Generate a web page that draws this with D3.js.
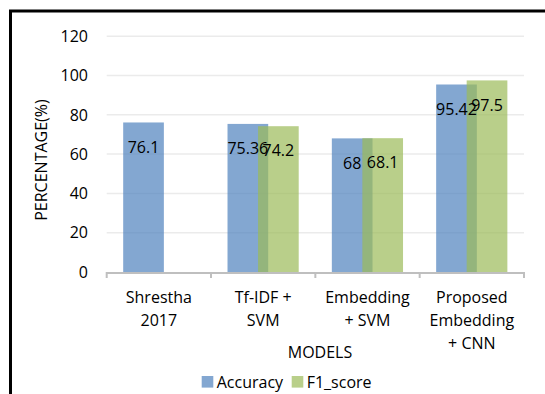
<!DOCTYPE html>
<html lang="en">
<head>
    <meta charset="UTF-8">
    <title>Accuracy and F1 score by model</title>
    <script src="https://d3js.org/d3.v7.min.js"></script>
    <style>
        body {
            margin: 0;
            background: #fff;
        }
        svg text {
            font-family: "Open Sans", sans-serif;
            font-size: 16px;
            fill: #000;
        }
        .grid line {
            stroke: #ebebeb;
            stroke-width: 1.5;
        }
    </style>
</head>
<body>
    <svg id="chart" width="545" height="394"></svg>
    <script>
        // Data
        const models = ["Shrestha 2017", "Tf-IDF + SVM", "Embedding + SVM", "Proposed Embedding + CNN"];
        const modelLines = [["Shrestha", "2017"], ["Tf-IDF +", "SVM"], ["Embedding", "+ SVM"], ["Proposed", "Embedding", "+ CNN"]];
        const seriesNames = ["Accuracy", "F1_score"];
        const accuracy = [76.1, 75.36, 68, 95.42];
        const f1score = [null, 74.2, 68.1, 97.5];
        const accuracyLabels = ["76.1", "75.36", "68", "95.42"];
        const f1Labels = [null, "74.2", "68.1", "97.5"];
        const yTicks = [0, 20, 40, 60, 80, 100, 120];

        const colors = ["#4f81bd", "#9bbb59"];
        const barOpacity = 0.7;

        const svg = d3.select("#chart");

        // frame (only top and left edges are visible in the crop)
        svg.append("path")
            .attr("d", "M10.5,394 V11 H545")
            .attr("fill", "none")
            .attr("stroke", "#000")
            .attr("stroke-width", 3);

        const x = d3.scaleBand()
            .domain(models)
            .range([106.7, 524])
            .padding(0);

        const y = d3.scaleLinear()
            .domain([0, 120])
            .range([272, 36.2]);

        const bw = x.bandwidth();
        const barW = bw * 0.39;
        const offset = bw * 0.158;
        const shift = barW * 0.75;

        // gridlines
        svg.append("g")
            .attr("class", "grid")
            .selectAll("line")
            .data(yTicks.slice(1))
            .enter()
            .append("line")
            .attr("x1", x.range()[0])
            .attr("x2", x.range()[1])
            .attr("y1", d => y(d))
            .attr("y2", d => y(d));

        // y tick labels
        svg.append("g")
            .selectAll("text")
            .data(yTicks)
            .enter()
            .append("text")
            .attr("x", 88)
            .attr("y", d => y(d))
            .attr("dy", "0.36em")
            .attr("text-anchor", "end")
            .text(d => d);

        // y title
        svg.append("text")
            .attr("transform", `translate(47,160) rotate(-90)`)
            .attr("text-anchor", "middle")
            .text("PERCENTAGE(%)");

        // bars
        const series = [accuracy, f1score];
        series.forEach((vals, i) => {
            svg.append("g")
                .selectAll("rect")
                .data(models.map((m, j) => ({ m, v: vals[j] })).filter(d => d.v != null))
                .enter()
                .append("rect")
                .attr("x", d => x(d.m) + offset + i * shift)
                .attr("y", d => y(d.v))
                .attr("width", barW)
                .attr("height", d => y(0) - y(d.v))
                .attr("fill", colors[i])
                .attr("fill-opacity", barOpacity);
        });

        // x axis line + ticks at band edges
        const axisG = svg.append("g");
        axisG.append("line")
            .attr("x1", x.range()[0])
            .attr("x2", x.range()[1])
            .attr("y1", y(0) + 1)
            .attr("y2", y(0) + 1)
            .attr("stroke", "#bfbfbf")
            .attr("stroke-width", 2);
        axisG.selectAll(".tick")
            .data(models.map(m => x(m)).concat([x.range()[1]]))
            .enter()
            .append("line")
            .attr("x1", d => d)
            .attr("x2", d => d)
            .attr("y1", y(0))
            .attr("y2", y(0) + 6)
            .attr("stroke", "#bfbfbf")
            .attr("stroke-width", 2);

        // category labels
        svg.append("g")
            .selectAll("text")
            .data(models)
            .enter()
            .append("text")
            .attr("text-anchor", "middle")
            .attr("y", 297)
            .each(function(m, j) {
                const t = d3.select(this);
                modelLines[j].forEach((line, k) => {
                    t.append("tspan")
                        .attr("x", x(m) + bw / 2)
                        .attr("dy", k === 0 ? "0.36em" : 23)
                        .text(line);
                });
            });

        // x title
        svg.append("text")
            .attr("x", 320)
            .attr("y", 352)
            .attr("dy", "0.36em")
            .attr("text-anchor", "middle")
            .text("MODELS");

        // data labels (inside end, like the source chart)
        const labels = [accuracyLabels, f1Labels];
        labels.forEach((labs, i) => {
            svg.append("g")
                .selectAll("text")
                .data(models.map((m, j) => ({ m, v: series[i][j], t: labs[j] })).filter(d => d.v != null))
                .enter()
                .append("text")
                .attr("x", d => x(d.m) + offset + i * shift + barW / 2)
                .attr("y", d => y(d.v) + 24.5)
                .attr("dy", "0.36em")
                .attr("text-anchor", "middle")
                .text(d => d.t);
        });

        // legend
        const legendX = [201.7, 291.7];
        const legend = svg.append("g");
        seriesNames.forEach((name, i) => {
            legend.append("rect")
                .attr("x", legendX[i])
                .attr("y", 376)
                .attr("width", 11.6)
                .attr("height", 11.6)
                .attr("fill", colors[i])
                .attr("fill-opacity", barOpacity);
            legend.append("text")
                .attr("x", legendX[i] + 15)
                .attr("y", 382)
                .attr("dy", "0.36em")
                .text(name);
        });
    </script>
</body>
</html>
